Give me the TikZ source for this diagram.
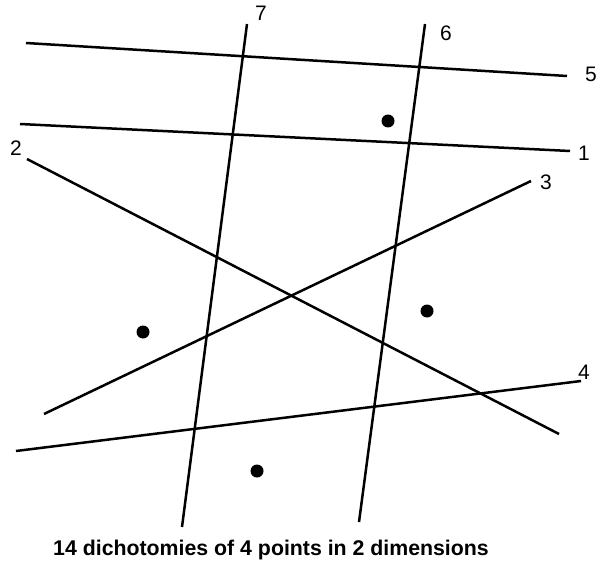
\documentclass[tikz,border=0pt]{standalone}
\usepackage{fontspec}
\setmainfont{Liberation Sans}
\usepackage{tikz}

\begin{document}
\begin{tikzpicture}[
        x=1pt, y=-1pt,
        % Separating lines: plain black strokes
        cut/.style = {draw=black, line width=2.5pt},
        % Line numbers next to the line ends
        cut_lbl/.style = {font=\fontsize{21}{21}\selectfont, inner sep=0pt},
        % Sample points
        pt/.style = {circle, fill=black, inner sep=0pt, minimum size=13pt},
        % Caption under the figure
        caption/.style = {font=\fontsize{21.3}{21.3}\selectfont\bfseries, inner sep=0pt, anchor=base}
    ]
    \useasboundingbox (0,0) rectangle (601,564);

    % --- End points of the seven lines ---
    \coordinate (l1a) at (20,124);  \coordinate (l1b) at (570,151);
    \coordinate (l2a) at (27,159);  \coordinate (l2b) at (559,434);
    \coordinate (l3a) at (44,414);  \coordinate (l3b) at (531,181);
    \coordinate (l4a) at (16,451);  \coordinate (l4b) at (581,381);
    \coordinate (l5a) at (26,43);   \coordinate (l5b) at (567,76);
    \coordinate (l6a) at (425,24);  \coordinate (l6b) at (359,522);
    \coordinate (l7a) at (247,24);  \coordinate (l7b) at (182,527);

    % --- Lines ---
    \foreach \i in {1,...,7}
        \draw[cut] (l\i a) -- (l\i b);

    % --- Line numbers ---
    \node[cut_lbl] (n1) at (584,153) {1};
    \node[cut_lbl] (n2) at (16,148) {2};
    \node[cut_lbl] (n3) at (546,182) {3};
    \node[cut_lbl] (n4) at (584,372) {4};
    \node[cut_lbl] (n5) at (591,74) {5};
    \node[cut_lbl] (n6) at (446,33) {6};
    \node[cut_lbl] (n7) at (261,13) {7};

    % --- The four points ---
    \node[pt] (p_top) at (388,121) {};
    \node[pt] (p_left) at (143,332) {};
    \node[pt] (p_right) at (427,311) {};
    \node[pt] (p_bottom) at (257,471) {};

    % --- Caption ---
    \node[caption] (cap) at (271,555) {14 dichotomies of 4 points in 2 dimensions};

\end{tikzpicture}
\end{document}
